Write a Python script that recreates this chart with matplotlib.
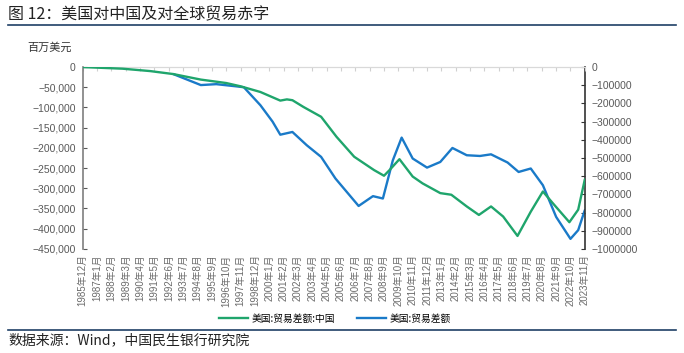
import matplotlib
matplotlib.use("Agg")
import matplotlib.pyplot as plt
from matplotlib.ticker import FuncFormatter, MultipleLocator
from matplotlib.lines import Line2D

plt.rcParams['font.family'] = ['Liberation Sans', 'Noto Sans CJK SC', 'DejaVu Sans']
plt.rcParams['axes.unicode_minus'] = True

# ---- data (millions of USD, 12-month rolling trade balance) ----
china_dates = ['1985-12', '1988-12', '1991-01', '1992-10', '1994-11', '1996-10', '1997-11',
               '1999-05', '2000-11', '2001-05', '2001-10', '2002-08', '2003-12', '2005-02',
               '2006-06', '2007-12', '2008-09', '2009-02', '2009-11', '2010-11', '2011-08',
               '2012-12', '2013-10', '2014-12', '2015-11', '2016-10', '2017-09', '2018-10',
               '2019-10', '2020-09', '2021-06', '2022-09', '2023-05', '2023-11']
china_vals = [0, -4000, -9900, -17300, -31000, -39500, -47600,
              -61700, -83000, -80000, -82000, -98700, -123000, -172700,
              -222000, -255000, -269000, -255000, -228000, -271000, -288000,
              -312000, -316000, -345000, -366000, -345000, -370000, -418000,
              -358000, -308000, -337000, -384000, -353000, -278000]

world_dates = ['1992-10', '1994-11', '1996-01', '1997-07', '1998-02', '1999-05', '2000-04',
               '2000-11', '2001-10', '2002-11', '2003-12', '2005-01', '2006-10', '2007-11',
               '2008-08', '2009-05', '2010-01', '2010-11', '2011-12', '2012-12', '2013-11',
               '2014-12', '2015-12', '2016-10', '2018-01', '2018-11', '2019-10', '2020-09',
               '2021-09', '2022-10', '2023-05', '2023-11']
world_vals = [-38500, -99000, -94000, -106000, -111000, -210000, -300000,
              -372000, -357000, -430000, -494000, -613000, -764000, -710000,
              -723000, -513000, -388000, -503000, -553000, -522000, -445000,
              -485000, -489000, -480000, -525000, -577000, -558000, -650000,
              -824000, -945000, -897000, -787000]

tick_labels = ['1985年12月', '1987年1月', '1988年2月', '1989年3月', '1990年4月', '1991年5月',
               '1992年6月', '1993年7月', '1994年8月', '1995年9月', '1996年10月', '1997年11月',
               '1998年12月', '2000年1月', '2001年2月', '2002年3月', '2003年4月', '2004年5月',
               '2005年6月', '2006年7月', '2007年8月', '2008年9月', '2009年10月', '2010年11月',
               '2011年12月', '2013年1月', '2014年2月', '2015年3月', '2016年4月', '2017年5月',
               '2018年6月', '2019年7月', '2020年8月', '2021年9月', '2022年10月', '2023年11月']

series_names = ['美国:贸易差额:中国', '美国:贸易差额']
title = '图 12：美国对中国及对全球贸易赤字'
unit = '百万美元'
source = '数据来源：Wind，中国民生银行研究院'


def month_index(s):
    y, m = s.split('-')
    return (int(y) - 1985) * 12 + (int(m) - 12)


def label_index(s):
    y = int(s.split('年')[0])
    m = int(s.split('年')[1].rstrip('月'))
    return (y - 1985) * 12 + (m - 12)


cx = [month_index(d) for d in china_dates]
wx = [month_index(d) for d in world_dates]
tx = [label_index(t) for t in tick_labels]

GREEN = '#1fa56c'
BLUE = '#1a7ac8'
GRAY = '#595959'
NAVY = '#1f3f66'

fig = plt.figure(figsize=(6.84, 3.53), dpi=100)
ax = fig.add_axes([0.121, 0.295, 0.734, 0.515])
ax2 = ax.twinx()

ax.plot(cx, china_vals, color=GREEN, lw=1.7, zorder=3, solid_capstyle='round', solid_joinstyle='round')
ax2.plot(wx, world_vals, color=BLUE, lw=1.7, zorder=2, solid_capstyle='round', solid_joinstyle='round')
ax.set_zorder(ax2.get_zorder() + 1)
ax.patch.set_visible(False)

ax.set_xlim(tx[0], tx[-1])
ax.set_ylim(-450000, 0)
ax2.set_ylim(-1000000, 0)

ax.yaxis.set_major_locator(MultipleLocator(50000))
ax2.yaxis.set_major_locator(MultipleLocator(100000))
ax.yaxis.set_major_formatter(FuncFormatter(lambda v, p: '0' if v == 0 else f'{v:,.0f}'.replace('-', '\u2212')))
ax2.yaxis.set_major_formatter(FuncFormatter(lambda v, p: '0' if v == 0 else f'{v:.0f}'.replace('-', '\u2212')))

ax.set_xticks(tx)
ax.set_xticklabels(tick_labels, rotation=90, fontsize=7, color='#6b6b6b',
                   family=['Liberation Sans', 'Noto Sans CJK SC'])
ax.tick_params(axis='x', which='both', top=True, bottom=False, labeltop=False,
               labelbottom=True, direction='in', length=3, color='#d0d0d0', pad=4)
ax.tick_params(axis='y', direction='in', length=3, color=GRAY, labelsize=7.5,
               labelcolor=GRAY, pad=5)
ax2.tick_params(axis='y', direction='in', length=3, color='#333333', labelsize=7.5,
                labelcolor=GRAY, pad=5)

for a in (ax, ax2):
    a.spines['bottom'].set_visible(False)
    a.spines['top'].set_color('#d9d9d9')
    a.spines['top'].set_linewidth(0.8)
ax.spines['left'].set_color('#7f7f7f')
ax.spines['left'].set_linewidth(1.2)
ax.spines['right'].set_visible(False)
ax2.spines['left'].set_visible(False)
ax2.spines['right'].set_color('#333333')
ax2.spines['right'].set_linewidth(1.2)
ax2.tick_params(axis='x', which='both', top=False, bottom=False, labelbottom=False)

handles = [Line2D([], [], color=GREEN, lw=1.7), Line2D([], [], color=BLUE, lw=1.7)]
fig.legend(handles, series_names, loc='center', bbox_to_anchor=(0.49, 0.098), ncol=2,
           frameon=False, handlelength=3, columnspacing=2.2,
           handletextpad=0.4, prop={'family': ['Noto Sans CJK SC'], 'size': 7})

fig.text(0.012, 0.958, title, fontsize=11.5, va='center', ha='left',
         family=['Noto Sans CJK SC'], color='#222222')
fig.add_artist(Line2D([0.012, 0.988], [0.928, 0.928], color=NAVY, lw=1.2))
fig.text(0.040, 0.866, unit, fontsize=8, va='center', ha='left',
         family=['Noto Sans CJK SC'], color='#333333')
fig.add_artist(Line2D([0.012, 0.988], [0.065, 0.065], color=NAVY, lw=1.2))
fig.text(0.012, 0.036, source, fontsize=10, va='center', ha='left',
         family=['Noto Sans CJK SC'], color='#222222')

fig.savefig('out.png', dpi=100)
